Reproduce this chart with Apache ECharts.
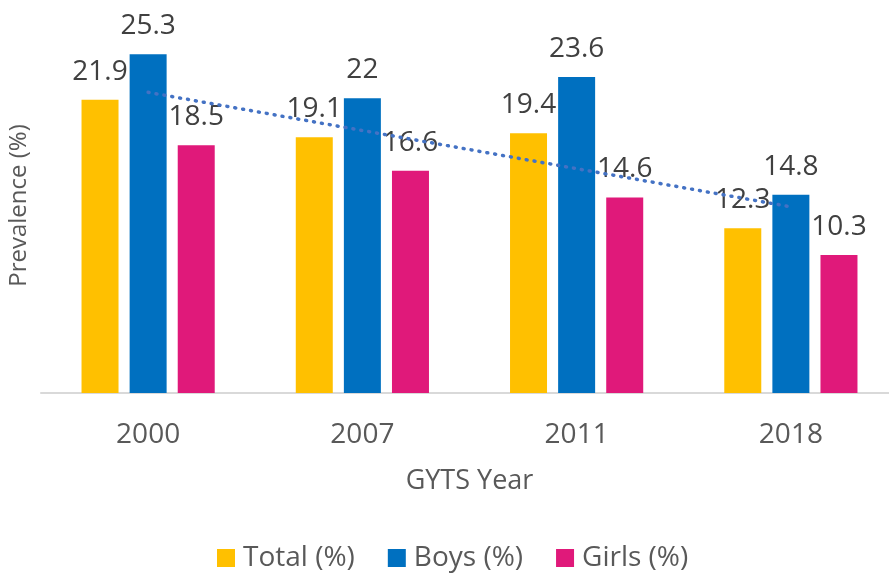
<!DOCTYPE html>
<html>
<head>
<meta charset="utf-8">
<script src="https://cdn.jsdelivr.net/npm/echarts@6/dist/echarts.min.js"></script>
<style>
    html, body { margin: 0; padding: 0; background: #fff; }
    #chart { width: 889px; height: 577px; }
</style>
</head>
<body>
<div id="chart"></div>
<script>
// data
var years = ['2000', '2007', '2011', '2018'];
var total = [21.9, 19.1, 19.4, 12.3];
var boys = [25.3, 22, 23.6, 14.8];
var girls = [18.5, 16.6, 14.6, 10.3];
// dotted trendline of Total, end points only
var trend = [22.45, null, null, 13.9];

var font = 'Open Sans';
var myChart = echarts.init(document.getElementById('chart'));

var labelStyle = {
    show: true,
    position: 'top',
    distance: 14,
    color: '#404040',
    fontFamily: font,
    fontSize: 28
};

var option = {
    animation: false,
    backgroundColor: '#fff',
    grid: {
        left: 41,
        top: 18,
        width: 857,
        height: 375,
        outerBoundsMode: 'none'
    },
    legend: {
        top: 539,
        left: 212,
        itemWidth: 18,
        itemHeight: 18,
        itemGap: 33,
        icon: 'rect',
        data: ['Total (%)', 'Boys (%)', 'Girls (%)'],
        textStyle: {
            color: '#595959',
            fontFamily: font,
            fontSize: 28,
            padding: [0, 0, 0, 3]
        }
    },
    xAxis: {
        type: 'category',
        data: years,
        name: 'GYTS Year',
        nameLocation: 'middle',
        nameGap: 75,
        nameTextStyle: {
            color: '#595959',
            fontFamily: font,
            fontSize: 27
        },
        axisLine: { lineStyle: { color: '#d9d9d9', width: 2 } },
        axisTick: { show: false },
        axisLabel: {
            color: '#595959',
            fontFamily: font,
            fontSize: 28,
            margin: 28
        }
    },
    yAxis: {
        type: 'value',
        min: 0,
        max: 28,
        name: 'Prevalence (%)',
        nameLocation: 'middle',
        nameGap: 10,
        nameTextStyle: {
            color: '#595959',
            fontFamily: font,
            fontSize: 24
        },
        axisLine: { show: false },
        axisTick: { show: false },
        axisLabel: { show: false },
        splitLine: { show: false }
    },
    series: [
        {
            name: 'Total (%)',
            type: 'bar',
            data: total,
            barWidth: 37,
            barGap: '30%',
            itemStyle: { color: '#FFC000' },
            label: labelStyle
        },
        {
            name: 'Boys (%)',
            type: 'bar',
            data: boys,
            barWidth: 37,
            barGap: '30%',
            itemStyle: { color: '#0070C0' },
            label: labelStyle
        },
        {
            name: 'Girls (%)',
            type: 'bar',
            data: girls,
            barWidth: 37,
            barGap: '30%',
            itemStyle: { color: '#E0197A' },
            label: labelStyle
        },
        {
            name: 'Trend',
            type: 'line',
            data: trend,
            connectNulls: true,
            symbol: 'none',
            z: 5,
            lineStyle: { color: '#4472C4', width: 3.5, type: [1, 7], cap: 'round' }
        }
    ]
};
myChart.setOption(option);
</script>
</body>
</html>
